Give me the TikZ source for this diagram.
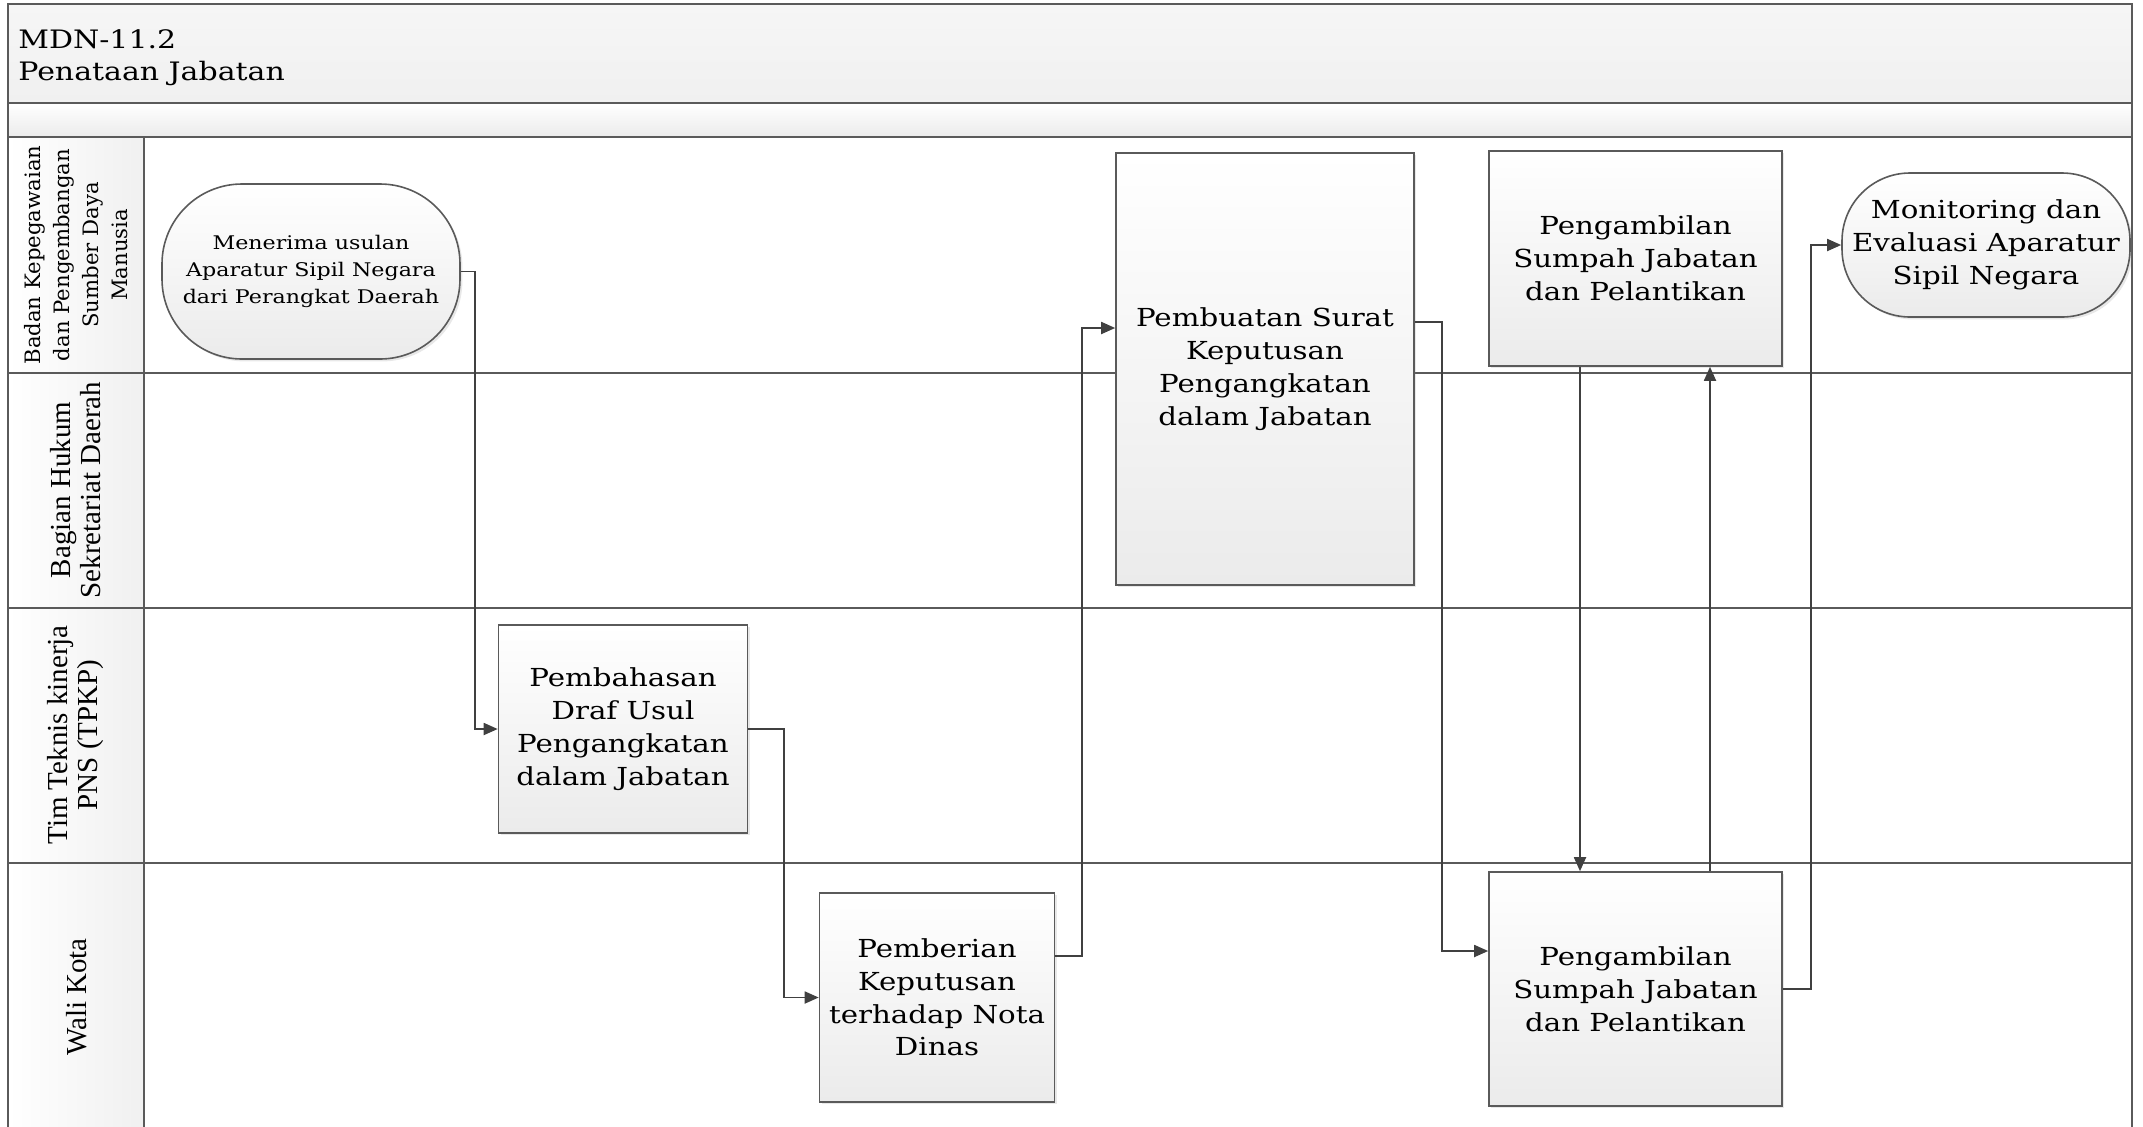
\documentclass[tikz,border=0pt]{standalone}
\usepackage{fontspec}
\setmainfont{DejaVu Serif}
\newfontfamily\boxfont[FakeStretch=1.18]{DejaVu Serif}
\newfontfamily\lanefont{Liberation Serif}
\usetikzlibrary{arrows.meta, positioning, shadows}
\definecolor{Line_Dark}{HTML}{404040}
\definecolor{Frame_Gray}{HTML}{5A5A5A}
\definecolor{Fill_Light}{HTML}{EBEBEB}
\definecolor{Band_Gray}{HTML}{F0F0F0}

\begin{document}
\begin{tikzpicture}[x=0.5pt, y=-0.5pt,
  lane/.style={draw=Frame_Gray, line width=1pt},
  proc/.style={draw=Frame_Gray, line width=0.8pt, top color=white, bottom color=Fill_Light,
    drop shadow={shadow xshift=1.2pt, shadow yshift=-1.2pt, opacity=0.18},
    align=center, inner sep=0pt, font=\boxfont\fontsize{12.4}{16.4}\selectfont},
  term/.style={proc, rectangle, rounded corners=40pt},
  flow/.style={draw=Line_Dark, line width=0.9pt, -{Triangle[length=7pt, width=6pt]}},
  lanelabel/.style={rotate=90, align=center, font=\lanefont\fontsize{14.5}{15}\selectfont}
]
\useasboundingbox (0,0) rectangle (2143,1126);
% --- Pool header ---
\shade[top color=Band_Gray!60, bottom color=Band_Gray] (8,4) rectangle (2132,103);
\shade[top color=white, bottom color=Fill_Light] (8,103) rectangle (2132,137);
\shade[left color=white, right color=Band_Gray] (8,137) rectangle (144,1131);
\node[anchor=north west, align=left, inner sep=0pt, font=\boxfont\fontsize{12.7}{16}\selectfont] (title) at (18,29) {MDN-11.2\\Penataan Jabatan};
% --- Lanes ---
\draw[lane] (8,4) rectangle (2132,1131);
\foreach \y in {103,137,373,608,863} {
  \draw[lane] (8,\y) -- (2132,\y);
}
\draw[lane] (144,137) -- (144,1131);
\node[lanelabel, font=\fontsize{10.6}{14.5}\selectfont] (laneBKPSDM) at (76,255) {Badan Kepegawaian\\dan Pengembangan\\Sumber Daya\\Manusia};
\node[lanelabel] (laneHukum) at (76,490) {Bagian Hukum\\Sekretariat Daerah};
\node[lanelabel] (laneTPKP) at (76,735) {Tim Teknis kinerja\\PNS (TPKP)};
\node[lanelabel] (laneWali) at (77,997) {Wali Kota};
% --- Steps ---
\node[term, minimum width=149pt, minimum height=87.5pt, font=\boxfont\fontsize{9.4}{13.3}\selectfont] (start) at (311,271.5) {Menerima usulan\\Aparatur Sipil Negara\\dari Perangkat Daerah};
\node[proc, minimum width=124.5pt, minimum height=104pt] (pembahasan) at (623,729) {Pembahasan\\Draf Usul\\Pengangkatan\\dalam Jabatan};
\node[proc, minimum width=117.5pt, minimum height=104.5pt] (pemberian) at (937,997.5) {Pemberian\\Keputusan\\terhadap Nota\\Dinas};
\node[proc, minimum width=149pt, minimum height=216pt] (pembuatan) at (1265,369) {Pembuatan Surat\\Keputusan\\Pengangkatan\\dalam Jabatan};
\node[proc, minimum width=146.5pt, minimum height=107.5pt] (sumpahA) at (1635.5,258.5) {Pengambilan\\Sumpah Jabatan\\dan Pelantikan};
\node[proc, minimum width=146.5pt, minimum height=117pt] (sumpahB) at (1635.5,989) {Pengambilan\\Sumpah Jabatan\\dan Pelantikan};
\node[term, rounded corners=34pt, minimum width=144pt, minimum height=72pt] (monitoring) at (1986,245) {Monitoring dan\\Evaluasi Aparatur\\Sipil Negara};
% --- Flow ---
\draw[flow] (start.east) -- ++(14,0) |- (pembahasan.west);
\draw[flow] (pembahasan.east) -- ++(36,0) |- (pemberian.west);
\draw[flow] ([yshift=20.75pt]pemberian.east) -- ++(27,0) |- ([yshift=20.5pt]pembuatan.west);
\draw[flow] ([yshift=23.5pt]pembuatan.east) -- ++(27,0) |- ([yshift=19pt]sumpahB.west);
\draw[flow] ([xshift=-27.75pt]sumpahA.south) -- ([xshift=-27.75pt]sumpahB.north);
\draw[flow] ([xshift=37.25pt]sumpahB.north) -- ([xshift=37.25pt]sumpahA.south);
\draw[flow] (sumpahB.east) -- ++(28,0) |- (monitoring.west);
\end{tikzpicture}
\end{document}
